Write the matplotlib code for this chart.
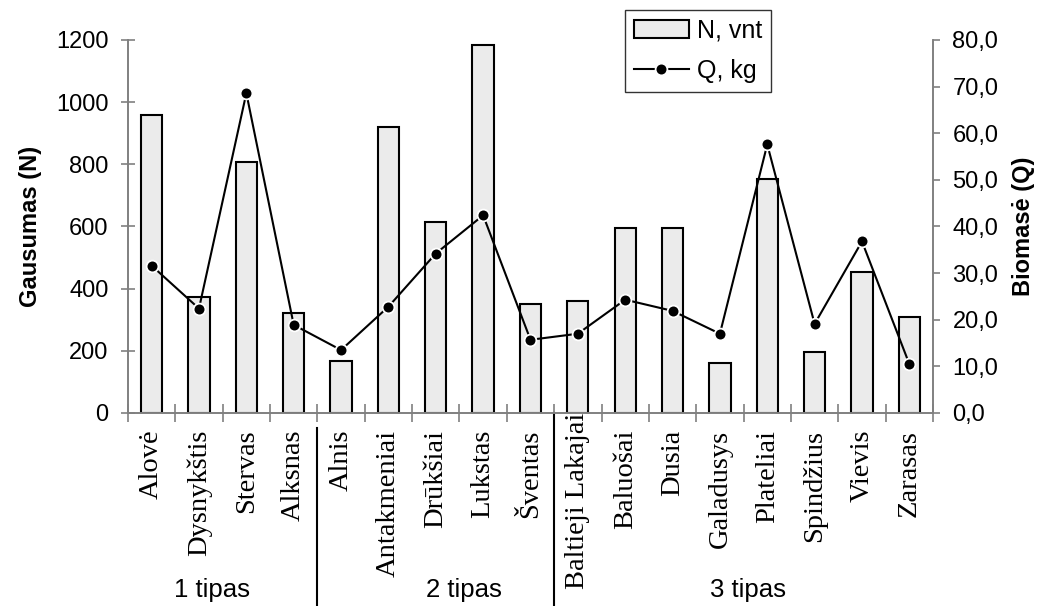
import numpy as np
import matplotlib.pyplot as plt
from matplotlib.transforms import blended_transform_factory, ScaledTranslation

# data
lakes = ['Alovė', 'Dysnykštis', 'Stervas', 'Alksnas', 'Alnis', 'Antakmeniai',
         'Drūkšiai', 'Lukstas', 'Šventas', 'Baltieji Lakajai', 'Baluošai',
         'Dusia', 'Galadusys', 'Plateliai', 'Spindžius', 'Vievis', 'Zarasas']
N_vnt = [958, 374, 806, 322, 168, 919, 613, 1184, 352, 361, 594, 594, 161, 752, 197, 452, 310]
Q_kg = [31.6, 22.4, 68.6, 18.9, 13.5, 22.8, 34.2, 42.4, 15.7, 17.0, 24.3, 21.9, 17.0, 57.6, 19.1, 36.8, 10.5]
groups = ['1 tipas', '2 tipas', '3 tipas']
group_sizes = [4, 5, 8]

fig = plt.figure(figsize=(10.42, 6.06), dpi=100)
ax = fig.add_axes([0.1228, 0.3185, 0.7726, 0.6155])
ax2 = ax.twinx()

x = np.arange(len(lakes))
bars = ax.bar(x, N_vnt, width=0.45, color='#ebebeb', edgecolor='black', linewidth=1.5,
              label='N, vnt', zorder=2)
line, = ax2.plot(x, Q_kg, color='black', lw=1.5, marker='o', markersize=8.5,
                 markerfacecolor='black', markeredgecolor='white', markeredgewidth=1.3,
                 label='Q, kg', zorder=3)

ax.set_xlim(-0.5, len(lakes) - 0.5)
ax.set_ylim(0, 1200)
ax2.set_ylim(0, 80)
ax.set_yticks(range(0, 1201, 200))
ax2.set_yticks(range(0, 81, 10))
ax2.set_yticklabels(['{:.1f}'.format(v).replace('.', ',') for v in range(0, 81, 10)])

grey = '#808080'
for a in (ax, ax2):
    a.spines['top'].set_visible(False)
    for s in ('left', 'right', 'bottom'):
        a.spines[s].set_color(grey)
        a.spines[s].set_linewidth(1.2)
ax.tick_params(axis='y', colors=grey, labelcolor='black', labelsize=17,
               length=10, width=1.2, direction='inout', pad=9)
ax2.tick_params(axis='y', colors=grey, labelcolor='black', labelsize=17,
                length=5, width=1.2, direction='out', pad=9)
for lab in ax.get_yticklabels() + ax2.get_yticklabels():
    lab.set_family('Liberation Sans')

# category ticks between bars
ax.set_xticks(x)
ax.set_xticklabels(lakes, rotation=90, family='Liberation Serif', fontsize=20.5)
ax.tick_params(axis='x', length=0, pad=12)
ax.set_xticks(np.arange(-0.5, len(lakes)), minor=True)
ax.tick_params(axis='x', which='minor', length=13, width=1.2, direction='inout', color=grey)
long_lab = ax.get_xticklabels()[lakes.index('Baltieji Lakajai')]
long_lab.set_transform(long_lab.get_transform() + ScaledTranslation(0, 12 / 72, fig.dpi_scale_trans))

ax.set_ylabel('Gausumas (N)', family='Liberation Sans', fontsize=17, fontweight='bold', labelpad=10)
ax2.set_ylabel('Biomasė (Q)', family='Liberation Sans', fontsize=17, fontweight='bold', labelpad=10)

# group separators and labels
tr = blended_transform_factory(ax.transData, ax.transAxes)
start = -0.5
label_x = [1.27, 6.6, 12.6]
sep_top = [-0.04, 0.0]
for i, (g, n) in enumerate(zip(groups, group_sizes)):
    end = start + n
    if i < len(groups) - 1:
        ax.plot([end, end], [sep_top[i], -0.515], transform=tr, color='black', lw=1.5, clip_on=False)
    ax.text(label_x[i], -0.475, g, transform=tr, ha='center', va='center',
            family='Liberation Sans', fontsize=18.5)
    start = end

leg = fig.legend([bars, line], ['N, vnt', 'Q, kg'], loc='upper left',
                 bbox_to_anchor=(0.5998, 0.9835), prop={'family': 'Liberation Sans', 'size': 18},
                 frameon=True, fancybox=False, edgecolor='black', handlelength=2.2,
                 handletextpad=0.32, borderpad=0.36, labelspacing=0.64, borderaxespad=0)
leg.get_frame().set_linewidth(1.0)

plt.savefig('out.png', dpi=100)
